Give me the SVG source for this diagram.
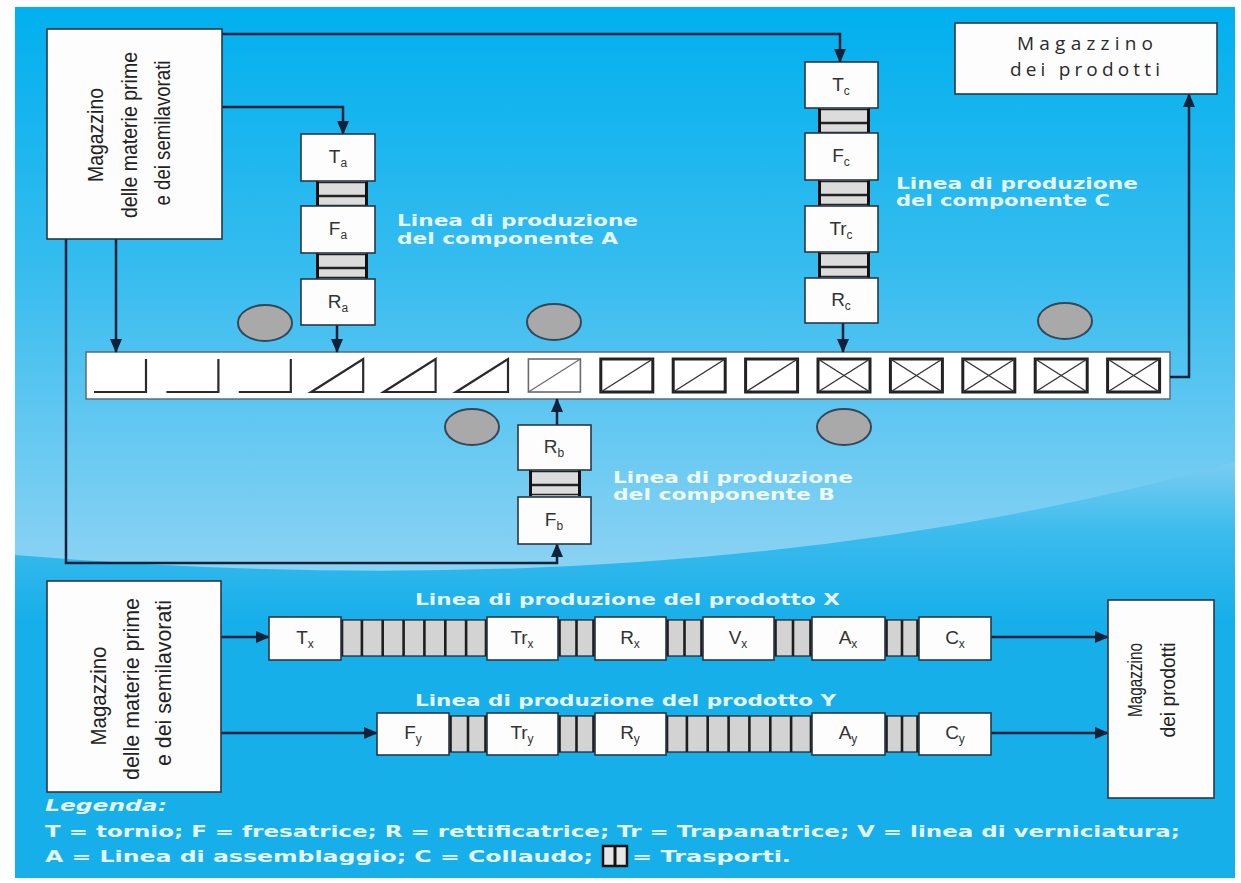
<svg xmlns="http://www.w3.org/2000/svg" width="1241" height="883" viewBox="0 0 1241 883">
<defs>
<linearGradient id="gTop" x1="0" y1="0" x2="0" y2="1">
<stop offset="0" stop-color="#00b0ee"/>
<stop offset="0.3" stop-color="#36bcef"/>
<stop offset="0.7" stop-color="#98d6f4"/>
<stop offset="1" stop-color="#b4e1f6"/>
</linearGradient>
<linearGradient id="gBot" gradientUnits="userSpaceOnUse" x1="0" y1="460" x2="0" y2="620">
<stop offset="0" stop-color="#7ccdf1"/>
<stop offset="0.45" stop-color="#3cbbed"/>
<stop offset="1" stop-color="#17afea"/>
</linearGradient>
<marker id="ah" markerUnits="userSpaceOnUse" markerWidth="14" markerHeight="12" refX="13" refY="6" orient="auto">
<path d="M0,0 L14,6 L0,12 Z" fill="#10213a"/>
</marker>
<style>
.box{fill:#fdfdfd;stroke:#2b3645;stroke-width:1.6}
.lbl{font-family:"Liberation Sans",Arial,sans-serif;font-size:19px;fill:#333;text-anchor:middle}
.sub{font-size:12px}
.wl{font-family:"DejaVu Sans",Verdana,sans-serif;font-weight:bold;font-size:16px;fill:#ffffff;fill-opacity:0.9}
.cn{font-family:"Liberation Sans Narrow","Liberation Sans",Arial,sans-serif;font-size:22px;fill:#222;text-anchor:middle}
.wire{fill:none;stroke:#10213a;stroke-width:2.5}
.cs{fill:none;stroke:#2a2a2a;stroke-width:2.2;stroke-linejoin:miter}
.cb{fill:none;stroke:#222;stroke-width:3}
.cd{stroke:#333;stroke-width:1.4}
.conv{fill:#d3d3d3;stroke:#1e1e1e;stroke-width:1.2}
.dv{stroke:#1e1e1e;stroke-width:2.6}
.oval{fill:#a9a9a9;stroke:#34475a;stroke-width:2}
.mp{font-family:"Open Sans","DejaVu Sans",sans-serif;font-size:19px;fill:#2a2a2a;text-anchor:middle}
</style>
<g id="cL"><polyline points="0,33 52,33 52,0" class="cs"/></g>
<g id="cT"><polygon points="0,33 52,33 52,0" class="cs"/></g>
<g id="cG"><rect width="52" height="33" fill="none" stroke="#6a6a6a" stroke-width="1.6"/><line x1="0" y1="33" x2="52" y2="0" stroke="#6a6a6a" stroke-width="1.2"/></g>
<g id="cD"><rect width="52" height="33" class="cb"/><line x1="0" y1="33" x2="52" y2="0" class="cd"/></g>
<g id="cX"><rect width="52" height="33" class="cb"/><line x1="0" y1="33" x2="52" y2="0" class="cd"/><line x1="0" y1="0" x2="52" y2="33" class="cd"/></g>
<g id="vc"><rect width="52" height="26" fill="#dcdcdc"/><line x1="0" y1="1.5" x2="52" y2="1.5" stroke="#222" stroke-width="1.5"/><line x1="0" y1="15" x2="52" y2="15" stroke="#222" stroke-width="2.5"/><line x1="0" y1="24.5" x2="52" y2="24.5" stroke="#222" stroke-width="1.5"/><line x1="1.5" y1="0" x2="1.5" y2="26" stroke="#111" stroke-width="3"/><line x1="50.5" y1="0" x2="50.5" y2="26" stroke="#111" stroke-width="3"/></g>
</defs>

<rect x="0" y="0" width="1241" height="883" fill="#ffffff"/>
<rect x="15" y="7" width="1220" height="871" fill="url(#gTop)"/>
<path d="M15,555 Q700,612 1235,462 L1235,878 L15,878 Z" fill="url(#gBot)"/>

<g id="belt">
<rect x="86" y="352" width="1084" height="47" fill="#ffffff" stroke="#5a6b7c" stroke-width="1.5"/>
<use href="#cL" x="94" y="359"/>
<use href="#cL" x="166.4" y="359"/>
<use href="#cL" x="238.8" y="359"/>
<use href="#cT" x="311.2" y="359"/>
<use href="#cT" x="383.6" y="359"/>
<use href="#cT" x="456" y="359"/>
<use href="#cG" x="528.4" y="359"/>
<use href="#cD" x="600.8" y="359"/>
<use href="#cD" x="673.2" y="359"/>
<use href="#cD" x="745.6" y="359"/>
<use href="#cX" x="818" y="359"/>
<use href="#cX" x="890.4" y="359"/>
<use href="#cX" x="962.8" y="359"/>
<use href="#cX" x="1035.2" y="359"/>
<use href="#cX" x="1107.6" y="359"/>
</g>

<g id="ovals">
<ellipse cx="265" cy="323" rx="27" ry="18" class="oval"/>
<ellipse cx="554" cy="322" rx="27" ry="18" class="oval"/>
<ellipse cx="1065" cy="321" rx="27" ry="18" class="oval"/>
<ellipse cx="472" cy="427" rx="27" ry="18" class="oval"/>
<ellipse cx="844" cy="427" rx="27" ry="18" class="oval"/>
</g>

<g id="connectors">
<path d="M222,34 H840 V62" class="wire" marker-end="url(#ah)"/>
<path d="M222,107 H343 V134" class="wire" marker-end="url(#ah)"/>
<path d="M116,239 V352" class="wire" marker-end="url(#ah)"/>
<path d="M66,239 V563 H557 V544" class="wire" marker-end="url(#ah)"/>
<path d="M337,325 V352" class="wire" marker-end="url(#ah)"/>
<path d="M843,323 V352" class="wire" marker-end="url(#ah)"/>
<path d="M557,425 V399" class="wire" marker-end="url(#ah)"/>
<path d="M1170,377 H1189 V94" class="wire" marker-end="url(#ah)"/>
<path d="M221,637 H269" class="wire" marker-end="url(#ah)"/>
<path d="M221,733 H377" class="wire" marker-end="url(#ah)"/>
<path d="M991,637 H1108" class="wire" marker-end="url(#ah)"/>
<path d="M991,733 H1108" class="wire" marker-end="url(#ah)"/>
</g>

<g id="transports">
<use href="#vc" x="316" y="181"/>
<use href="#vc" x="316" y="253"/>
<use href="#vc" x="818" y="108"/>
<use href="#vc" x="818" y="180"/>
<use href="#vc" x="818" y="252"/>
<use href="#vc" x="529" y="470"/>
<rect x="341" y="620" width="146" height="36" class="conv"/>
<g class="dv"><line x1="342" y1="620" x2="342" y2="656"/><line x1="361.9" y1="620" x2="361.9" y2="656"/><line x1="382.7" y1="620" x2="382.7" y2="656"/><line x1="403.6" y1="620" x2="403.6" y2="656"/><line x1="424.4" y1="620" x2="424.4" y2="656"/><line x1="445.3" y1="620" x2="445.3" y2="656"/><line x1="466.1" y1="620" x2="466.1" y2="656"/><line x1="486" y1="620" x2="486" y2="656"/></g>
<rect x="558" y="620" width="37" height="36" class="conv"/>
<g class="dv"><line x1="559.5" y1="620" x2="559.5" y2="656"/><line x1="576.5" y1="620" x2="576.5" y2="656"/><line x1="593.5" y1="620" x2="593.5" y2="656"/></g>
<rect x="666" y="620" width="37" height="36" class="conv"/>
<g class="dv"><line x1="667.5" y1="620" x2="667.5" y2="656"/><line x1="684.5" y1="620" x2="684.5" y2="656"/><line x1="701.5" y1="620" x2="701.5" y2="656"/></g>
<rect x="774" y="620" width="38" height="36" class="conv"/>
<g class="dv"><line x1="775.5" y1="620" x2="775.5" y2="656"/><line x1="793" y1="620" x2="793" y2="656"/><line x1="810.5" y1="620" x2="810.5" y2="656"/></g>
<rect x="885" y="620" width="34" height="36" class="conv"/>
<g class="dv"><line x1="886.5" y1="620" x2="886.5" y2="656"/><line x1="902" y1="620" x2="902" y2="656"/><line x1="917.5" y1="620" x2="917.5" y2="656"/></g>
<rect x="449" y="716" width="38" height="36" class="conv"/>
<g class="dv"><line x1="450.5" y1="716" x2="450.5" y2="752"/><line x1="468" y1="716" x2="468" y2="752"/><line x1="485.5" y1="716" x2="485.5" y2="752"/></g>
<rect x="558" y="716" width="37" height="36" class="conv"/>
<g class="dv"><line x1="559.5" y1="716" x2="559.5" y2="752"/><line x1="576.5" y1="716" x2="576.5" y2="752"/><line x1="593.5" y1="716" x2="593.5" y2="752"/></g>
<rect x="666" y="716" width="146" height="36" class="conv"/>
<g class="dv"><line x1="667" y1="716" x2="667" y2="752"/><line x1="686.9" y1="716" x2="686.9" y2="752"/><line x1="707.7" y1="716" x2="707.7" y2="752"/><line x1="728.6" y1="716" x2="728.6" y2="752"/><line x1="749.4" y1="716" x2="749.4" y2="752"/><line x1="770.3" y1="716" x2="770.3" y2="752"/><line x1="791.1" y1="716" x2="791.1" y2="752"/><line x1="811" y1="716" x2="811" y2="752"/></g>
<rect x="885" y="716" width="34" height="36" class="conv"/>
<g class="dv"><line x1="886.5" y1="716" x2="886.5" y2="752"/><line x1="902" y1="716" x2="902" y2="752"/><line x1="917.5" y1="716" x2="917.5" y2="752"/></g>
</g>

<g id="mag-top-left">
<rect x="47" y="29" width="175" height="210" class="box"/>
<text class="cn" transform="translate(103,135) rotate(-90)" textLength="94" lengthAdjust="spacingAndGlyphs">Magazzino</text>
<text class="cn" transform="translate(137,135) rotate(-90)" textLength="166" lengthAdjust="spacingAndGlyphs">delle materie prime</text>
<text class="cn" transform="translate(170,133) rotate(-90)" textLength="145" lengthAdjust="spacingAndGlyphs">e dei semilavorati</text>
</g>

<g id="mag-top-right">
<rect x="955" y="23" width="262" height="71" class="box"/>
<text x="1085" y="50" class="mp" textLength="136" lengthAdjust="spacing">Magazzino</text>
<text x="1085" y="76" class="mp" textLength="150" lengthAdjust="spacing">dei prodotti</text>
</g>

<g id="Ta"><rect x="301" y="134" width="74" height="47" class="box"/><text x="338" y="163" class="lbl">T<tspan class="sub" dy="4">a</tspan></text></g>
<g id="Fa"><rect x="301" y="206" width="74" height="47" class="box"/><text x="338" y="235" class="lbl">F<tspan class="sub" dy="4">a</tspan></text></g>
<g id="Ra"><rect x="301" y="279" width="74" height="46" class="box"/><text x="338" y="308" class="lbl">R<tspan class="sub" dy="4">a</tspan></text></g>

<g id="Tc"><rect x="805" y="62" width="73" height="46" class="box"/><text x="841" y="91" class="lbl">T<tspan class="sub" dy="4">c</tspan></text></g>
<g id="Fc"><rect x="805" y="133" width="73" height="47" class="box"/><text x="841" y="162" class="lbl">F<tspan class="sub" dy="4">c</tspan></text></g>
<g id="Trc"><rect x="805" y="206" width="73" height="46" class="box"/><text x="841" y="235" class="lbl">Tr<tspan class="sub" dy="4">c</tspan></text></g>
<g id="Rc"><rect x="805" y="278" width="73" height="45" class="box"/><text x="841" y="306" class="lbl">R<tspan class="sub" dy="4">c</tspan></text></g>

<g id="Rb"><rect x="518" y="425" width="73" height="45" class="box"/><text x="554" y="453" class="lbl">R<tspan class="sub" dy="4">b</tspan></text></g>
<g id="Fb"><rect x="518" y="497" width="73" height="47" class="box"/><text x="554" y="526" class="lbl">F<tspan class="sub" dy="4">b</tspan></text></g>

<g id="labels-top">
<text class="wl" x="397" y="226" textLength="241" lengthAdjust="spacingAndGlyphs">Linea di produzione</text>
<text class="wl" x="397" y="244" textLength="221" lengthAdjust="spacingAndGlyphs">del componente A</text>
<text class="wl" x="896" y="189" textLength="242" lengthAdjust="spacingAndGlyphs">Linea di produzione</text>
<text class="wl" x="896" y="206" textLength="214" lengthAdjust="spacingAndGlyphs">del componente C</text>
<text class="wl" x="613" y="483" textLength="240" lengthAdjust="spacingAndGlyphs" fill-opacity="0.8">Linea di produzione</text>
<text class="wl" x="613" y="500" textLength="222" lengthAdjust="spacingAndGlyphs" fill-opacity="0.8">del componente B</text>
</g>

<g id="mag-bottom-left">
<rect x="47" y="581" width="174" height="211" class="box"/>
<text class="cn" transform="translate(106,696) rotate(-90)" textLength="99" lengthAdjust="spacingAndGlyphs">Magazzino</text>
<text class="cn" transform="translate(139,689) rotate(-90)" textLength="182" lengthAdjust="spacingAndGlyphs">delle materie prime</text>
<text class="cn" transform="translate(171,683) rotate(-90)" textLength="166" lengthAdjust="spacingAndGlyphs">e dei semilavorati</text>
</g>

<g id="mag-bottom-right">
<rect x="1108" y="600" width="106" height="198" class="box"/>
<text class="cn" style="font-size:20px" transform="translate(1142,680) rotate(-90)" textLength="74" lengthAdjust="spacingAndGlyphs">Magazzino</text>
<text class="cn" style="font-size:20px" transform="translate(1175,690) rotate(-90)" textLength="95" lengthAdjust="spacingAndGlyphs">dei prodotti</text>
</g>

<g id="row-x">
<text class="wl" x="415" y="605" textLength="425" lengthAdjust="spacingAndGlyphs">Linea di produzione del prodotto X</text>
<g id="Tx"><rect x="269" y="617" width="72" height="43" class="box"/><text x="305" y="644" class="lbl">T<tspan class="sub" dy="4">x</tspan></text></g>
<g id="Trx"><rect x="487" y="617" width="71" height="43" class="box"/><text x="522" y="644" class="lbl">Tr<tspan class="sub" dy="4">x</tspan></text></g>
<g id="Rx"><rect x="595" y="617" width="71" height="43" class="box"/><text x="630" y="644" class="lbl">R<tspan class="sub" dy="4">x</tspan></text></g>
<g id="Vx"><rect x="703" y="617" width="71" height="43" class="box"/><text x="738" y="644" class="lbl">V<tspan class="sub" dy="4">x</tspan></text></g>
<g id="Ax"><rect x="812" y="617" width="73" height="43" class="box"/><text x="848" y="644" class="lbl">A<tspan class="sub" dy="4">x</tspan></text></g>
<g id="Cx"><rect x="919" y="617" width="72" height="43" class="box"/><text x="955" y="644" class="lbl">C<tspan class="sub" dy="4">x</tspan></text></g>
</g>

<g id="row-y">
<text class="wl" x="415" y="706" textLength="421" lengthAdjust="spacingAndGlyphs">Linea di produzione del prodotto Y</text>
<g id="Fy"><rect x="377" y="713" width="72" height="42" class="box"/><text x="413" y="739" class="lbl">F<tspan class="sub" dy="4">y</tspan></text></g>
<g id="Try"><rect x="487" y="713" width="71" height="42" class="box"/><text x="522" y="739" class="lbl">Tr<tspan class="sub" dy="4">y</tspan></text></g>
<g id="Ry"><rect x="595" y="713" width="71" height="42" class="box"/><text x="630" y="739" class="lbl">R<tspan class="sub" dy="4">y</tspan></text></g>
<g id="Ay"><rect x="812" y="713" width="73" height="42" class="box"/><text x="848" y="739" class="lbl">A<tspan class="sub" dy="4">y</tspan></text></g>
<g id="Cy"><rect x="919" y="713" width="72" height="42" class="box"/><text x="955" y="739" class="lbl">C<tspan class="sub" dy="4">y</tspan></text></g>
</g>

<g id="legend">
<text class="wl" x="45" y="811" font-style="italic" textLength="122" lengthAdjust="spacingAndGlyphs">Legenda:</text>
<text class="wl" x="45" y="837" textLength="1135" lengthAdjust="spacingAndGlyphs">T = tornio; F = fresatrice; R = rettificatrice; Tr = Trapanatrice; V = linea di verniciatura;</text>
<text class="wl" x="45" y="862" textLength="548" lengthAdjust="spacingAndGlyphs">A = Linea di assemblaggio; C = Collaudo;</text>
<rect x="603" y="846" width="24" height="20" fill="#e6e6e6" stroke="#111" stroke-width="2.5"/>
<line x1="615" y1="846" x2="615" y2="866" stroke="#111" stroke-width="3"/>
<text class="wl" x="632" y="862" textLength="159" lengthAdjust="spacingAndGlyphs">= Trasporti.</text>
</g>
</svg>
